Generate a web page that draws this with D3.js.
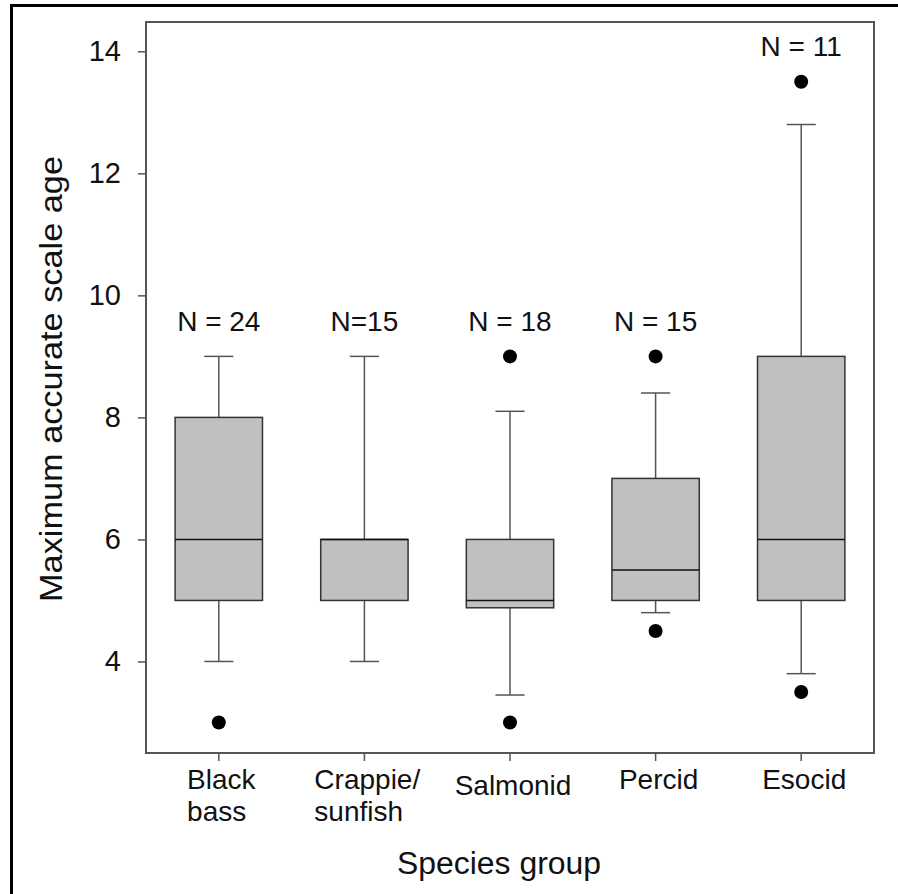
<!DOCTYPE html>
<html>
<head>
<meta charset="utf-8">
<script src="https://cdn.jsdelivr.net/npm/d3@7"></script>
<style>
  html, body { margin: 0; padding: 0; background: #fff; }
  text { font-family: "Liberation Sans", Arial, sans-serif; fill: #111; }
</style>
</head>
<body>
<svg id="chart" width="898" height="894"></svg>
<script>
const width = 898, height = 894;

// Box plot summaries
const groups = [["Black", "bass"], ["Crappie/", "sunfish"], ["Salmonid"], ["Percid"], ["Esocid"]];
const q1 = [5, 5, 4.88, 5, 5];
const median = [6, 6, 5, 5.5, 6];
const q3 = [8, 6, 6, 7, 9];
const whisker_low = [4, 4, 3.45, 4.8, 3.8];
const whisker_high = [9, 9, 8.1, 8.4, 12.8];
const outliers = [[3], [], [3, 9], [4.5, 9], [3.5, 13.5]];
const n_labels = ["N = 24", "N=15", "N = 18", "N = 15", "N = 11"];
const y_ticks = [4, 6, 8, 10, 12, 14];

const margin = {top: 22, right: 24, bottom: 141, left: 146};
const svg = d3.select("#chart");

// outer frame (cropped at the right and bottom in the original)
svg.append("rect")
    .attr("x", 11.5).attr("y", 5.5)
    .attr("width", 1000).attr("height", 1000)
    .attr("fill", "none").attr("stroke", "#000").attr("stroke-width", 3);

const x_scale = d3.scaleBand()
    .domain(d3.range(groups.length))
    .range([margin.left, width - margin.right])
    .padding(0);
const y_scale = d3.scaleLinear()
    .domain([2.5, 14.48])
    .range([height - margin.bottom, margin.top]);

const cx = i => x_scale(i) + x_scale.bandwidth() / 2;
const box_w = x_scale.bandwidth() * 0.6;
const cap_w = x_scale.bandwidth() * 0.2;

// axes
let y_axis = d3.axisLeft(y_scale).tickValues(y_ticks).tickSize(8).tickPadding(17).tickFormat(d3.format("d"));
svg.append("g")
    .attr("transform", "translate(" + margin.left + ",0)")
    .call(y_axis)
    .call(g => g.select(".domain").remove())
    .call(g => g.selectAll("line").attr("stroke", "#555").attr("stroke-width", 1.5))
    .call(g => g.selectAll("text").attr("font-size", 29).attr("font-family", "Liberation Sans, Arial, sans-serif").attr("fill", "#111"));

let x_axis = d3.axisBottom(x_scale).tickSize(8).tickFormat("");
svg.append("g")
    .attr("transform", "translate(0," + (height - margin.bottom) + ")")
    .call(x_axis)
    .call(g => g.select(".domain").remove())
    .call(g => g.selectAll("line").attr("stroke", "#555").attr("stroke-width", 1.5));

// multi-line category labels, left aligned block centred on the tick
groups.forEach((lines, i) => {
    let t = svg.append("text")
        .attr("font-size", 28)
        .attr("y", height - margin.bottom + 36 + (i === 2 ? 6 : 0));
    lines.forEach((line, k) => {
        t.append("tspan").attr("x", 0).attr("dy", k === 0 ? 0 : 32).text(line);
    });
    let w = t.node().getBBox().width;
    t.attr("transform", "translate(" + (cx(i) - w / 2 + 3) + ",0)");
});

// plot frame
svg.append("rect")
    .attr("x", margin.left).attr("y", margin.top)
    .attr("width", width - margin.left - margin.right)
    .attr("height", height - margin.top - margin.bottom)
    .attr("fill", "none").attr("stroke", "#555").attr("stroke-width", 2);

// whiskers
const plot = svg.append("g");
const idx = d3.range(groups.length);
plot.append("g").selectAll("line")
    .data(idx).join("line")
    .attr("x1", cx).attr("x2", cx)
    .attr("y1", i => y_scale(q1[i])).attr("y2", i => y_scale(whisker_low[i]))
    .attr("stroke", "#555").attr("stroke-width", 1.5);
plot.append("g").selectAll("line")
    .data(idx).join("line")
    .attr("x1", cx).attr("x2", cx)
    .attr("y1", i => y_scale(q3[i])).attr("y2", i => y_scale(whisker_high[i]))
    .attr("stroke", "#555").attr("stroke-width", 1.5);
[whisker_low, whisker_high].forEach(arr => {
    plot.append("g").selectAll("line")
        .data(idx).join("line")
        .attr("x1", i => cx(i) - cap_w / 2).attr("x2", i => cx(i) + cap_w / 2)
        .attr("y1", i => y_scale(arr[i])).attr("y2", i => y_scale(arr[i]))
        .attr("stroke", "#555").attr("stroke-width", 1.5);
});

// boxes
plot.append("g").selectAll("rect")
    .data(idx).join("rect")
    .attr("x", i => cx(i) - box_w / 2)
    .attr("y", i => y_scale(q3[i]))
    .attr("width", box_w)
    .attr("height", i => y_scale(q1[i]) - y_scale(q3[i]))
    .attr("fill", "#c0c0c0").attr("stroke", "#333").attr("stroke-width", 1.5);
plot.append("g").selectAll("line")
    .data(idx).join("line")
    .attr("x1", i => cx(i) - box_w / 2).attr("x2", i => cx(i) + box_w / 2)
    .attr("y1", i => y_scale(median[i])).attr("y2", i => y_scale(median[i]))
    .attr("stroke", "#111").attr("stroke-width", 1.5);

// outliers
plot.append("g").selectAll("circle")
    .data(outliers.flatMap((arr, i) => arr.map(v => ({i: i, v: v}))))
    .join("circle")
    .attr("cx", d => cx(d.i)).attr("cy", d => y_scale(d.v))
    .attr("r", 7).attr("fill", "#000");

// sample sizes above each group
plot.append("g").selectAll("text")
    .data(idx).join("text")
    .attr("x", cx)
    .attr("y", i => y_scale(d3.max([whisker_high[i], ...outliers[i]]) + 0.42))
    .attr("text-anchor", "middle")
    .attr("font-size", 28)
    .text(i => n_labels[i]);

// axis titles
svg.append("text")
    .attr("transform", "translate(62,379) rotate(-90)")
    .attr("text-anchor", "middle")
    .attr("font-size", 31)
    .attr("textLength", 446)
    .attr("lengthAdjust", "spacingAndGlyphs")
    .text("Maximum accurate scale age");
svg.append("text")
    .attr("x", 499).attr("y", 874)
    .attr("text-anchor", "middle")
    .attr("font-size", 31)
    .attr("textLength", 204)
    .attr("lengthAdjust", "spacingAndGlyphs")
    .text("Species group");
</script>
</body>
</html>
